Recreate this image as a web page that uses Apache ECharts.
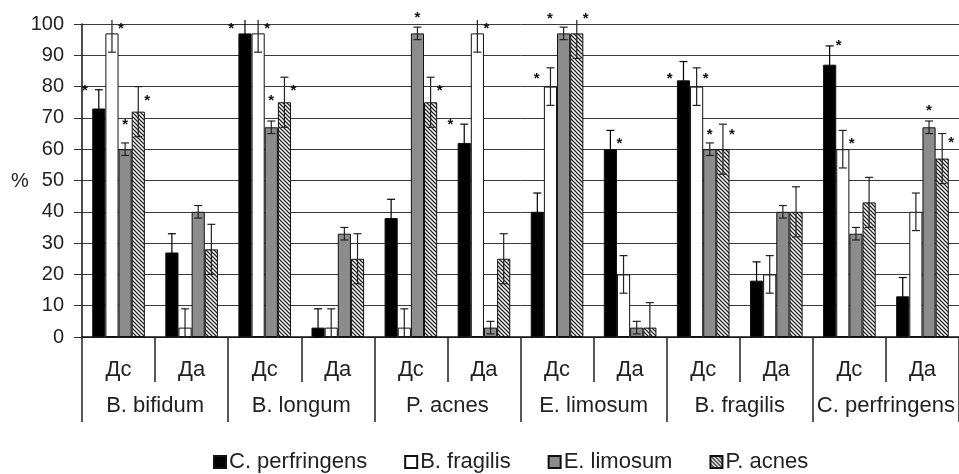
<!DOCTYPE html>
<html>
<head>
<meta charset="utf-8">
<script src="https://cdn.jsdelivr.net/npm/echarts@6/dist/echarts.min.js"></script>
<style>
html,body{margin:0;padding:0;background:#fff;}
#chart{width:959px;height:474px;}
</style>
</head>
<body>
<div id="chart"></div>
<script>
// ---- data ----
const subCategories = ['Дс','Да','Дс','Да','Дс','Да','Дс','Да','Дс','Да','Дс','Да'];
const groups = ['B. bifidum','B. longum','P. acnes','E. limosum','B. fragilis','C. perfringens'];
const seriesNames = ['C. perfringens','B. fragilis','E. limosum','P. acnes'];
const yTicks = [0,10,20,30,40,50,60,70,80,90,100];

const cPerfringens = [73, 27, 97, 3, 38, 62, 40, 60, 82, 18, 87, 13];
const bFragilis    = [97, 3, 97, 3, 3, 97, 80, 20, 80, 20, 60, 40];
const eLimosum     = [60, 40, 67, 33, 97, 3, 97, 3, 60, 40, 33, 67];
const pAcnes       = [72, 28, 75, 25, 75, 25, 97, 3, 60, 40, 43, 57];

const errCPerfringens = [6,6,6,6,6,6,6,6,6,6,6,6];
const errBFragilis    = [6,6,6,6,6,6,6,6,6,6,6,6];
const errELimosum     = [2,2,2,2,2,2,2,2,2,2,2,2];
const errPAcnes       = [8,8,8,8,8,8,8,8,8,8,8,8];

// significance marks: [category index, series index, value level, side]
const stars = [
  [0,0,79.6,'L'],[0,1,99.4,'R'],[0,2,68.7,'T'],[0,3,76.4,'R'],
  [2,0,99.4,'L'],[2,1,99.4,'R'],[2,2,76.4,'T'],[2,3,79.6,'R'],
  [4,2,103,'T'],[4,3,79.6,'R'],
  [5,0,68.7,'L'],[5,1,99.4,'R'],
  [6,1,83.4,'L'],[6,2,102.6,'L'],[6,3,102.6,'R'],
  [7,0,62.6,'R'],
  [8,0,83.4,'L'],[8,1,83.4,'R'],[8,2,65.5,'T'],[8,3,65.5,'R'],
  [10,0,94,'R'],[10,1,62.6,'R'],
  [11,2,73.2,'T'],[11,3,62.9,'R']
];

// ---- rendering ----
const values = [cPerfringens, bFragilis, eLimosum, pAcnes];
const errors = [errCPerfringens, errBFragilis, errELimosum, errPAcnes];

function hatch() {
  const c = document.createElement('canvas');
  c.width = 4; c.height = 4;
  const g = c.getContext('2d');
  g.fillStyle = '#ffffff';
  g.fillRect(0,0,4,4);
  g.strokeStyle = '#222';
  g.lineWidth = 1.25;
  g.beginPath();
  g.moveTo(-1,-1); g.lineTo(5,5);
  g.moveTo(-1,3); g.lineTo(1,5);
  g.moveTo(3,-1); g.lineTo(5,1);
  g.stroke();
  return c;
}
const fills = ['#000000', '#ffffff', '#8c8c8c', {image: hatch(), repeat: 'repeat'}];

const FONT = '"Liberation Sans", Arial, sans-serif';
const TXT = '#222';
const chart = echarts.init(document.getElementById('chart'), null, {renderer: 'canvas'});

const barSeries = seriesNames.map((n, i) => ({
  name: n,
  type: 'bar',
  data: values[i],
  barGap: '0%',
  barCategoryGap: '28%',
  itemStyle: {color: fills[i], borderColor: '#111', borderWidth: 1},
  emphasis: {disabled: true},
  animation: false
}));

const errData = [];
values.forEach((arr, s) => arr.forEach((v, c) => errData.push([c, v, errors[s][c], s])));

const FRAC = 0.18; // bar width as fraction of category
function offsetFor(s, bw) { return (s - 1.5) * FRAC * bw; }

const errSeries = {
  type: 'custom',
  name: 'err',
  data: errData,
  clip: false,
  z: 5,
  silent: true,
  animation: false,
  encode: {x: 0, y: 1},
  renderItem: function (params, api) {
    const c = api.value(0), v = api.value(1), e = api.value(2), s = api.value(3);
    const bw = api.size([1, 0])[0];
    const base = api.coord([c, v]);
    const x = base[0] + offsetFor(s, bw);
    let hiV = v + e, topCap = true;
    if (hiV > 101.3) { hiV = 101.3; topCap = false; }
    const loV = Math.max(v - e, 0);
    const yHi = api.coord([c, hiV])[1];
    const yLo = api.coord([c, loV])[1];
    const hw = 4;
    const st = {stroke: s === 0 ? '#000' : '#222', lineWidth: 1.2};
    const ch = [
      {type: 'line', shape: {x1: x, y1: yLo, x2: x, y2: yHi}, style: st},
      {type: 'line', shape: {x1: x - hw, y1: yLo, x2: x + hw, y2: yLo}, style: st}
    ];
    if (topCap) ch.push({type: 'line', shape: {x1: x - hw, y1: yHi, x2: x + hw, y2: yHi}, style: st});
    return {type: 'group', children: ch};
  }
};

const sideNum = {L: -1, T: 0, R: 1};
const starData = stars.map(a => [a[0], a[2], a[1], sideNum[a[3]]]);
const starSeries = {
  type: 'custom',
  name: 'stars',
  data: starData,
  clip: false,
  z: 6,
  silent: true,
  animation: false,
  encode: {x: 0, y: 1},
  renderItem: function (params, api) {
    const c = api.value(0), y = api.value(1), s = api.value(2), side = api.value(3);
    const bw = api.size([1, 0])[0];
    const p = api.coord([c, y]);
    const x = p[0] + offsetFor(s, bw) + (side < 0 ? -1.05 : side > 0 ? 0.68 : 0) * FRAC * bw;
    return {
      type: 'text',
      style: {x: x, y: p[1] + 3, text: '*', fill: '#111', font: 'bold 15px ' + FONT, textAlign: 'center', textVerticalAlign: 'middle'}
    };
  }
};

chart.setOption({
  animation: false,
  backgroundColor: '#fff',
  grid: {left: 82, right: -7, top: 24, bottom: 137, containLabel: false},
  legend: {
    data: seriesNames,
    icon: 'rect',
    left: 208, top: 446,
    itemWidth: 12, itemHeight: 12, itemGap: 37,
    textStyle: {fontFamily: FONT, fontSize: 22, color: TXT, padding: [0,0,0,-2]},
    selectedMode: false
  },
  graphic: [{type: 'text', left: 11, top: 171, style: {text: '%', font: '20px ' + FONT, fill: TXT}}],
  xAxis: [
    {
      type: 'category', data: subCategories, position: 'bottom',
      axisLine: {show: true, lineStyle: {color: '#111', width: 1.5}},
      axisTick: {show: true, interval: 0, length: 45, lineStyle: {color: '#222', width: 1.5}},
      axisLabel: {interval: 0, margin: 22, fontFamily: FONT, fontSize: 22, color: TXT},
      splitLine: {show: false}
    },
    {
      type: 'category', data: groups, position: 'bottom',
      axisLine: {show: false},
      axisTick: {show: true, interval: 0, length: 85, lineStyle: {color: '#222', width: 1.5}},
      axisLabel: {interval: 0, margin: 58, fontFamily: FONT, fontSize: 22, color: TXT},
      splitLine: {show: false}
    }
  ],
  yAxis: {
    type: 'value', min: yTicks[0], max: yTicks[yTicks.length - 1], interval: 10,
    axisLine: {show: true, lineStyle: {color: '#111', width: 1.5}},
    axisTick: {show: true, length: 8, lineStyle: {color: '#333'}},
    axisLabel: {margin: 18, fontFamily: FONT, fontSize: 20, color: TXT},
    splitLine: {show: true, lineStyle: {color: '#3a3a3a', width: 1}}
  },
  series: barSeries.concat([errSeries, starSeries])
});
</script>
</body>
</html>
